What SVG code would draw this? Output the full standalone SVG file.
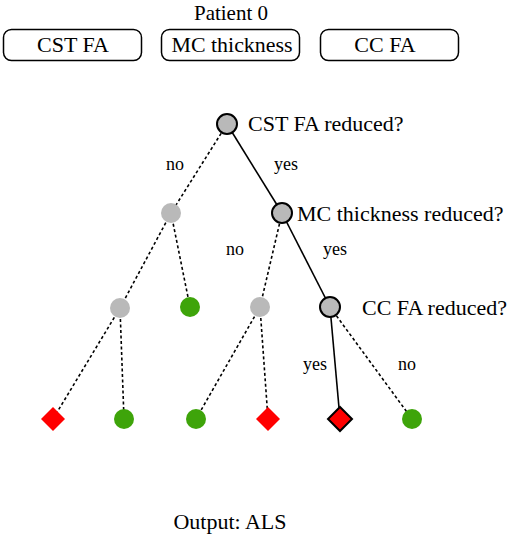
<svg xmlns="http://www.w3.org/2000/svg" width="510" height="538" viewBox="0 0 510 538">
<style>
text{font-family:"Liberation Serif","Times New Roman",serif;fill:#000}
.t{font-size:22px}
.s{font-size:18px}
.box{fill:#fff;stroke:#000;stroke-width:1.5}
.g{fill:#b9b9b9}
.go{fill:#b9b9b9;stroke:#000;stroke-width:2}
.gr{fill:#3ea40a}
.rd{fill:#f00}
.rdo{fill:#f00;stroke:#000;stroke-width:2}
.sol{stroke:#000;stroke-width:1.6;fill:none}
.dsh{stroke:#000;stroke-width:1.6;fill:none;stroke-dasharray:3 2.5}
</style>
<rect width="510" height="538" fill="#fff"/>
<text x="231" y="20" text-anchor="middle" style="font-size:21px">Patient 0</text>
<g id="box-cst"><rect class="box" x="3.5" y="29.5" width="138" height="31" rx="8"/><text class="t" x="73" y="52" text-anchor="middle">CST FA</text></g>
<g id="box-mc"><rect class="box" x="161.5" y="29.5" width="138" height="31" rx="8"/><text class="t" x="232" y="52" text-anchor="middle" textLength="121" lengthAdjust="spacingAndGlyphs">MC thickness</text></g>
<g id="box-cc"><rect class="box" x="320.5" y="29.5" width="138" height="31" rx="8"/><text class="t" x="385" y="52" text-anchor="middle">CC FA</text></g>
<g id="connectors">
<line class="dsh" x1="227" y1="124" x2="171" y2="213"/>
<line class="sol" x1="227" y1="124" x2="282" y2="213"/>
<line class="dsh" x1="171" y1="213" x2="120" y2="308"/>
<line class="dsh" x1="171" y1="213" x2="190" y2="307"/>
<line class="dsh" x1="282" y1="213" x2="260" y2="307"/>
<line class="sol" x1="282" y1="213" x2="330" y2="307"/>
<line class="dsh" x1="120" y1="308" x2="53" y2="419"/>
<line class="dsh" x1="120" y1="308" x2="124" y2="419"/>
<line class="dsh" x1="260" y1="307" x2="196" y2="419"/>
<line class="dsh" x1="260" y1="307" x2="268" y2="419"/>
<line class="sol" x1="330" y1="307" x2="340" y2="419"/>
<line class="dsh" x1="330" y1="307" x2="412" y2="419"/>
</g>
<g id="node-root"><circle class="go" cx="227" cy="124" r="10"/><text class="t" x="248" y="131">CST FA reduced?</text></g>
<g id="node-l1"><circle class="g" cx="171" cy="213" r="10"/></g>
<g id="node-mc"><circle class="go" cx="282" cy="213" r="10"/><text class="t" x="297" y="221">MC thickness reduced?</text></g>
<g id="node-l2a"><circle class="g" cx="120" cy="308" r="10"/></g>
<g id="node-l2b"><circle class="gr" cx="190" cy="307" r="10"/></g>
<g id="node-l2c"><circle class="g" cx="260" cy="307" r="10"/></g>
<g id="node-cc"><circle class="go" cx="330" cy="307" r="10"/><text class="t" x="362" y="315">CC FA reduced?</text></g>
<g id="leaf1"><polygon class="rd" points="53,407 65,419 53,431 41,419"/></g>
<g id="leaf2"><circle class="gr" cx="124" cy="419" r="10"/></g>
<g id="leaf3"><circle class="gr" cx="196" cy="419" r="10"/></g>
<g id="leaf4"><polygon class="rd" points="268,407 280,419 268,431 256,419"/></g>
<g id="leaf5"><polygon class="rdo" points="340,407 352,419 340,431 328,419"/></g>
<g id="leaf6"><circle class="gr" cx="412" cy="419" r="10"/></g>
<g id="labels">
<text class="s" x="166" y="170">no</text>
<text class="s" x="274" y="170">yes</text>
<text class="s" x="226" y="255">no</text>
<text class="s" x="323" y="255">yes</text>
<text class="s" x="303" y="370">yes</text>
<text class="s" x="398" y="370">no</text>
</g>
<text class="t" x="230" y="529" text-anchor="middle">Output: ALS</text>
</svg>
